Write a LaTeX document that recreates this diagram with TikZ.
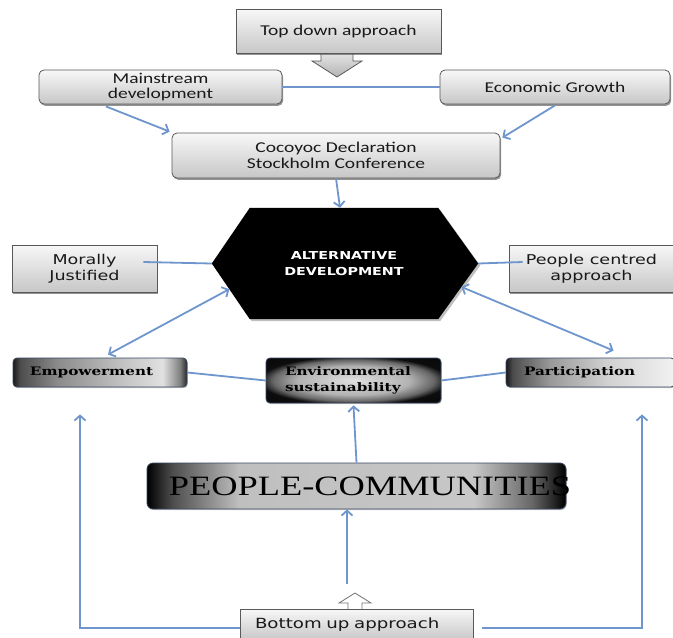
\documentclass[tikz,border=0pt]{standalone}
\usepackage{fontspec}
\usetikzlibrary{calc,shadows,arrows.meta}
\newfontfamily\fcal{Carlito}[FakeStretch=1.3]
\newfontfamily\fdv{DejaVu Sans}[FakeStretch=1.3]
\newfontfamily\fdvs{DejaVu Serif}[FakeStretch=1.3]
\newfontfamily\flib{Liberation Serif}[FakeStretch=1.3]
\definecolor{connblue}{RGB}{110,150,205}
\definecolor{dkb}{RGB}{55,70,95}
\pgfdeclarelayer{bg}
\pgfsetlayers{bg,main}
\pgfdeclarehorizontalshading{pcshade}{100bp}{color(0bp)=(black); color(25bp)=(black); color(28bp)=(black!70); color(36bp)=(black!25); color(64bp)=(black!22); color(71bp)=(black!60); color(75bp)=(black); color(100bp)=(black)}
\pgfdeclarehorizontalshading{empshade}{100bp}{color(0bp)=(black); color(25bp)=(black!90); color(27bp)=(black!70); color(38bp)=(black!45); color(58bp)=(black!22); color(68bp)=(black!12); color(73bp)=(black!50); color(75bp)=(black!85); color(100bp)=(black!85)}
\pgfdeclarehorizontalshading{parshade}{100bp}{color(0bp)=(black); color(25bp)=(black!90); color(27bp)=(black!70); color(38bp)=(black!40); color(55bp)=(black!18); color(75bp)=(black!5); color(100bp)=(black!5)}
\pgfdeclareradialshading{envshade}{\pgfpoint{0bp}{0bp}}{color(0bp)=(black!12); color(16bp)=(black!30); color(23bp)=(black!60); color(27bp)=(black!95); color(50bp)=(black)}
\begin{document}
\begin{tikzpicture}[x=1pt,y=1pt,
  graybox/.style={draw=black!65, line width=0.8pt, top color=black!3, bottom color=black!22,
    drop shadow={shadow xshift=1.2pt, shadow yshift=-1.8pt, fill=black!70, opacity=0.6},
    inner sep=0pt, text=black!90},
  rbox/.style={graybox, rounded corners=5pt},
  darkbox/.style={draw=dkb, line width=0.8pt, rounded corners=4pt, inner ysep=0pt, text=black,
    drop shadow={shadow xshift=0.8pt, shadow yshift=-1.2pt, fill=black!40, opacity=0.5}},
  conn/.style={draw=connblue, line width=1.8pt, >={Straight Barb[length=5pt,width=11pt]}},
  topfont/.style={font={\fcal\fontsize{15pt}{15pt}\selectfont}},
  sidefont/.style={font={\fdv\fontsize{13.5pt}{16pt}\selectfont}},
  serbfont/.style={font={\fdvs\bfseries\fontsize{11.7pt}{16pt}\selectfont}}
]
\useasboundingbox (0,0) rectangle (673,-638);

% top down approach (arrow first, box over it)
\draw[draw=black!65, line width=0.8pt, top color=black!8, bottom color=black!30]
  (321,-50) -- (321,-61) -- (312,-61) -- (337,-77) -- (362,-61) -- (353,-61) -- (353,-50) -- cycle;
\node[graybox, topfont, minimum width=205pt, minimum height=44pt] (td) at (338.5,-31) {Top down approach};

\node[rbox, topfont, align=center, minimum width=243pt, minimum height=34pt] (ms) at (160.5,-87) {Mainstream\\development};
\node[rbox, topfont, minimum width=230pt, minimum height=34pt] (eg) at (555,-87) {Economic Growth};
\node[rbox, font={\fcal\fontsize{15pt}{16pt}\selectfont}, align=center, minimum width=328pt, minimum height=45pt] (coc) at (336,-155.5) {Cocoyoc Declaration\\Stockholm Conference};

% hexagon
\node[minimum width=188pt, minimum height=111pt, inner sep=0pt, text=white, align=center,
  font={\fdv\bfseries\fontsize{11pt}{16pt}\selectfont}] (alt) at (344,-263.5) {ALTERNATIVE\\DEVELOPMENT};
\coordinate (hexW) at ($(alt.west)+(-38,0)$);
\coordinate (hexE) at ($(alt.east)+(40,0)$);
\begin{pgfonlayer}{bg}
\path[fill=black, drop shadow={shadow xshift=2pt, shadow yshift=-2pt, fill=black!50, opacity=0.5}]
  (alt.north west) -- (alt.north east) -- (hexE) -- (alt.south east) -- (alt.south west) -- (hexW) -- cycle;
\end{pgfonlayer}

\node[graybox, sidefont, align=center, minimum width=145pt, minimum height=47pt] (mor) at (84.5,-268.5) {Morally\\Justified};
\node[graybox, sidefont, align=center, minimum width=165pt, minimum height=47pt] (pca) at (591.5,-268.5) {People centred\\approach};

\node[darkbox, serbfont, shading=empshade, align=left, inner xsep=17pt, text width=140pt, minimum height=29pt] (emp) at (100,-372.5) {Empowerment};
\node[darkbox, serbfont, shading=envshade, align=left, inner xsep=19pt, text width=137pt, minimum height=45pt] (env) at (353.5,-380.5) {Environmental\\sustainability};
\node[darkbox, serbfont, shading=parshade, align=left, inner xsep=18pt, text width=133pt, minimum height=29pt] (par) at (590.5,-372.5) {Participation};

\node[darkbox, shading=pcshade, rounded corners=6pt, minimum width=419pt, minimum height=46pt] (pc) at (356.5,-486) {};
\node[font={\flib\fontsize{28pt}{30pt}\selectfont}, inner sep=0pt] (pct) at (370,-486) {PEOPLE-COMMUNITIES};

% bottom up approach
\draw[draw=black!55, fill=white, line width=0.8pt]
  (348,-612) -- (348,-603) -- (339,-603) -- (355,-593) -- (371,-603) -- (362,-603) -- (362,-612);
\node[graybox, font={\fdv\fontsize{14pt}{16pt}\selectfont}, align=left, inner xsep=15pt, text width=203pt, minimum height=31pt] (bu) at (356.5,-624.5) {Bottom up approach};

% connectors
\draw[conn] (ms.east) -- (eg.west);
\draw[conn,->] ($(ms.south west)!0.276!(ms.south east)+(0,-2)$) -- ($(coc.north west)+(-2,1)$);
\draw[conn,->] ($(eg.south)+(0,-1)$) -- ($(coc.north east)+(2,-5)$);
\draw[conn,->] (coc.south) -- ($(alt.north)+(-4,0)$);
\coordinate (morI) at ($(mor.east)+(-14,6.5)$);
\draw[conn] (morI) -- (hexW);
\coordinate (pcaI) at ($(pca.west)+(14,6.5)$);
\draw[conn] (hexE) -- (pcaI);
\draw[conn,<->] ($(emp.north)+(8,3)$) -- ($(hexW)!0.46!(alt.south west)$);
\draw[conn,<->] ($(hexE)!0.42!(alt.south east)$) -- ($(par.north)+(23,7)$);
\draw[conn] (emp.east) -- (env.west);
\draw[conn] (env.east) -- (par.west);
\draw[conn,->] (pc.north) -- ($(env.south)+(0,-2)$);
\coordinate (buT) at (347,-584);
\draw[conn,->] (buT) -- (buT |- pc.south);
\draw[conn,->] ($(bu.west)+(0,-3.5)$) -| ($(emp.south)+(-20,-27)$);
\draw[conn,->] ($(bu.east)+(9,-3.5)$) -| ($(par.south)+(51.5,-27)$);
\end{tikzpicture}
\end{document}
